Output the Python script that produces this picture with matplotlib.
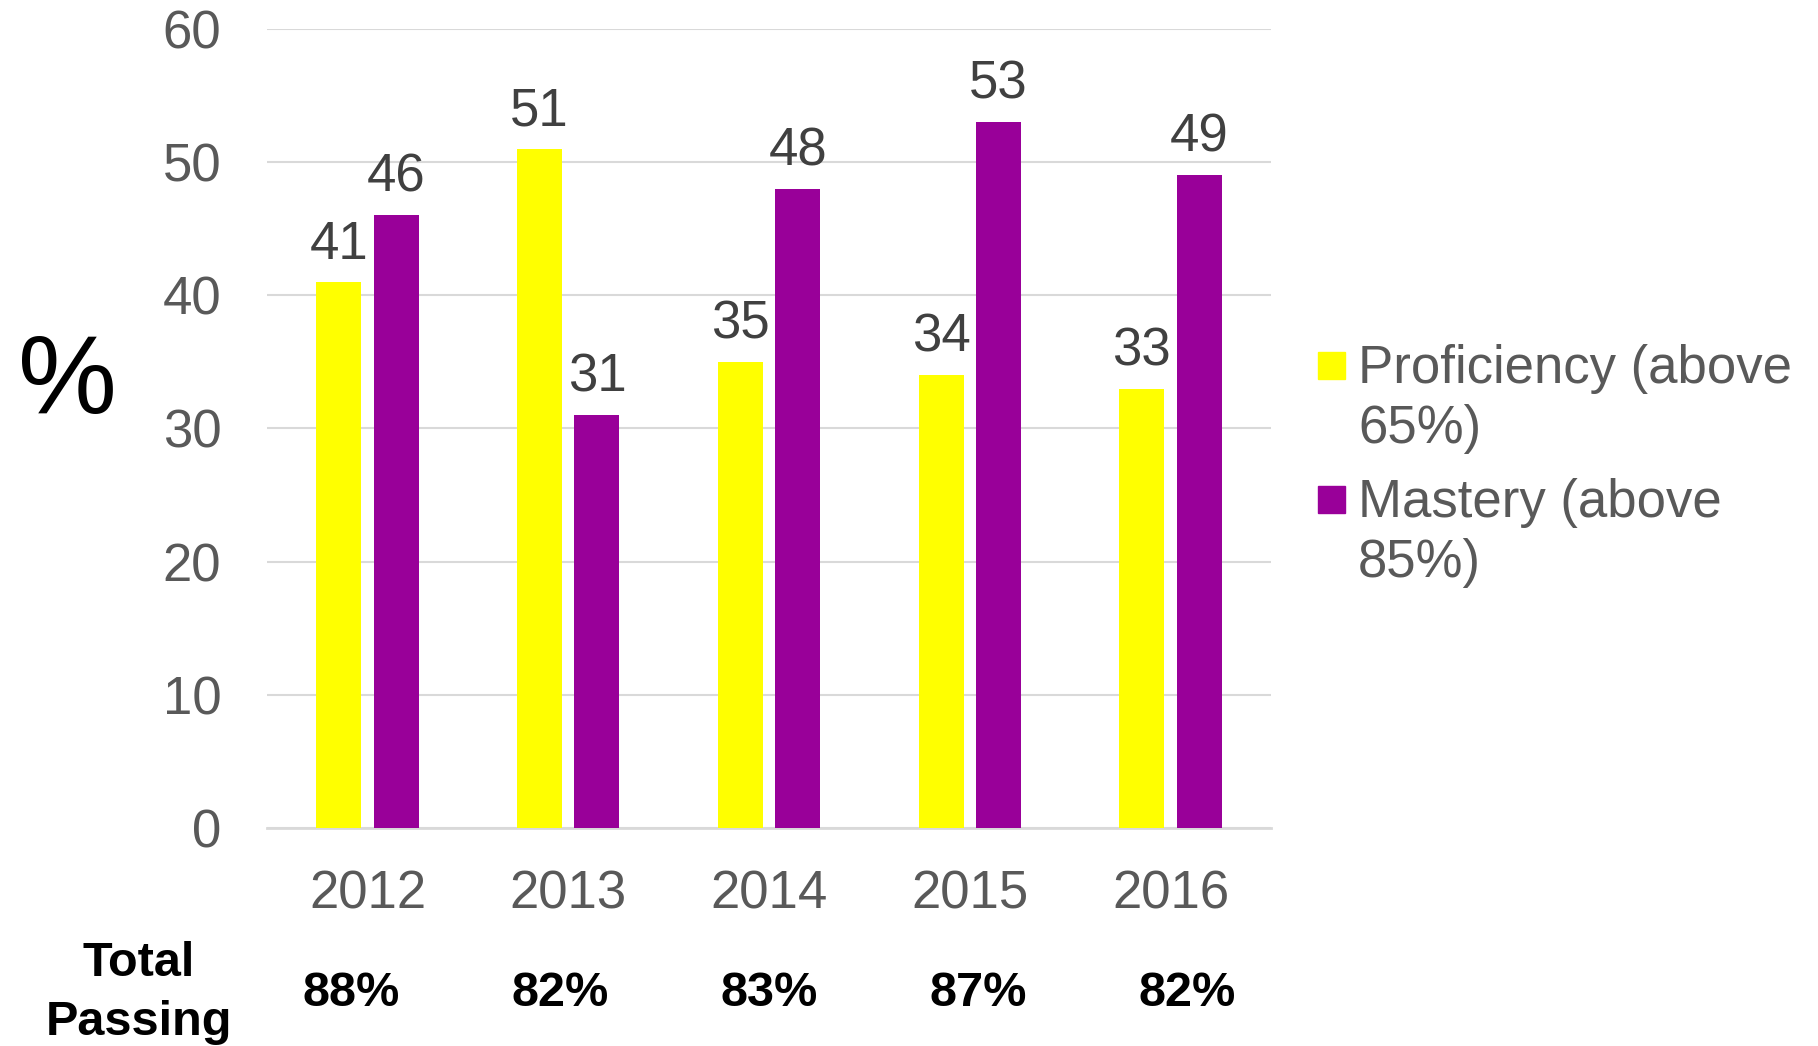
import numpy as np
import matplotlib
matplotlib.use("Agg")
import matplotlib.pyplot as plt
from matplotlib.patches import Rectangle

plt.rcParams['font.family'] = ['Liberation Sans', 'DejaVu Sans']

years = ['2012', '2013', '2014', '2015', '2016']
proficiency = [41, 51, 35, 34, 33]
mastery = [46, 31, 48, 53, 49]
total_passing = ['88%', '82%', '83%', '87%', '82%']
series_labels = [['Proficiency (above', '65%)'], ['Mastery (above', '85%)']]

yellow = '#FFFF00'
purple = '#990099'
grey_text = '#595959'

W, H = 1818, 1046
fig = plt.figure(figsize=(W / 100, H / 100), dpi=100)
ax = fig.add_axes([0.1469, 0.2084, 0.5522, 0.7639])

x = np.arange(len(years))
w = 0.224
b1 = ax.bar(x - 0.143, proficiency, w, color=yellow, zorder=3)
b2 = ax.bar(x + 0.143, mastery, w, color=purple, zorder=3)

for bars, vals in [(b1, proficiency), (b2, mastery)]:
    for bar, v in zip(bars, vals):
        ax.annotate(str(v), (bar.get_x() + bar.get_width() / 2, v),
                    xytext=(0, 9), textcoords='offset points',
                    ha='center', va='bottom', fontsize=38, color='#404040')

ax.set_xlim(-0.5, len(years) - 0.5)
ax.set_ylim(0, 60)
ax.set_yticks(range(0, 61, 10))
ax.set_xticks(x)
ax.set_xticklabels(years)
ax.tick_params(axis='both', length=0, labelsize=38, labelcolor=grey_text)
ax.tick_params(axis='y', pad=33)
ax.tick_params(axis='x', pad=30)
ax.yaxis.grid(True, color='#D9D9D9', linewidth=1.5, zorder=0)
for s in ['top', 'right', 'left']:
    ax.spines[s].set_visible(False)
ax.spines['bottom'].set_color('#D9D9D9')
ax.spines['bottom'].set_linewidth(2)

# big % axis label
fig.text(67 / W, 1 - 384 / H, '%', fontsize=80, ha='center', va='center', color='black')

# total passing row
fig.text(139 / W, 1 - 993 / H, 'Total\nPassing', fontsize=35, fontweight='bold',
         ha='center', va='center', linespacing=1.4)
trans = matplotlib.transforms.blended_transform_factory(ax.transData, fig.transFigure)
for i, t in enumerate(total_passing):
    ax.text((i - 2) * 1.04 + 2, 1 - 993 / H, t, transform=trans, fontsize=35,
            fontweight='bold', ha='center', va='center', color='black')

# legend drawn by hand so the square sits on the first text line
legend_rows = [(yellow, 352, 383), (purple, 486, 517)]
for (col, sq_top, base), lines in zip(legend_rows, series_labels):
    fig.patches.append(Rectangle((1318 / W, 1 - (sq_top + 27) / H), 27 / W, 27 / H,
                                 transform=fig.transFigure, color=col))
    for k, line in enumerate(lines):
        fig.text(1358 / W, 1 - (base + 60 * k) / H, line, fontsize=38, color=grey_text,
                 ha='left', va='baseline')

fig.savefig('out.png', dpi=100)
